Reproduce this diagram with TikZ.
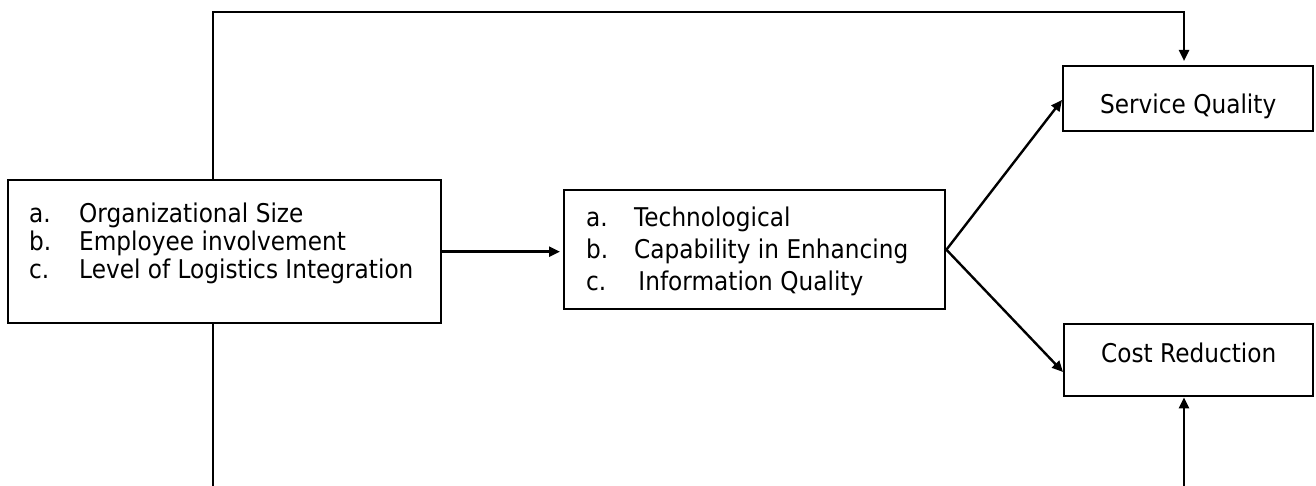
\documentclass[tikz,border=0pt]{standalone}
\usepackage{fontspec}
\setmainfont{DejaVu Sans}[FakeStretch=0.9]
\usetikzlibrary{arrows.meta}

\begin{document}
\begin{tikzpicture}[x=1pt,y=-1pt,
  line width=2.4pt,
  box/.style={draw=black, line width=2.4pt, inner sep=0pt, rectangle},
  listtext/.style={inner sep=0pt, anchor=base west, align=left},
  arr/.style={-{Triangle[length=11pt,width=10pt]}, line width=2.4pt},
  plain/.style={line width=2.4pt}]

\useasboundingbox (0,0) rectangle (1316,486);

% antecedent factors
\node[box, minimum width=433pt, minimum height=143pt, anchor=north west] (drv) at (7,179) {};
\node[listtext] (drvtext) at (28,223)
  {\fontsize{25.8}{27}\selectfont
   \begin{tabular}[t]{@{}p{50pt}@{}l@{}}
   a. & Organizational Size\\
   b. & Employee involvement\\
   c. & Level of Logistics Integration
   \end{tabular}};

% technology capability
\node[box, minimum width=381pt, minimum height=119pt, anchor=north west] (tec) at (563,189) {};
\node[listtext] (tectext) at (585,227)
  {\fontsize{25.8}{32}\selectfont
   \begin{tabular}[t]{@{}p{48pt}@{}l@{}}
   a. & Technological\\
   b. & Capability in Enhancing\\
   c. & \,Information Quality
   \end{tabular}};

% outcomes
\node[box, minimum width=250pt, text height=47pt, text depth=18pt, anchor=north west,
      font=\fontsize{25.8}{30}\selectfont] (sq) at (1062,65) {Service Quality};
\node[box, minimum width=249pt, text height=38pt, text depth=34pt, anchor=north west,
      font=\fontsize{25.8}{30}\selectfont] (cr) at (1063,323) {Cost Reduction};

% routing points
\coordinate (topL) at (213,12);
\coordinate (topR) at (1184,12);
\coordinate (botL) at (213,486);
\coordinate (botR) at (1184,486);
\coordinate (crIn) at (1063,372);

% connectors
\draw[arr, shorten >=4pt] (drv.north -| topL) -- (topL) -- (topR) -- (topR |- sq.north);
\draw[arr, shorten >=3pt] (drv.east) -- (drv.east -| tec.west);
\draw[arr] (tec.east) -- (1062,100);
\draw[arr] (tec.east) -- (crIn);
\draw[plain] (drv.south -| botL) -- (botL);
\draw[arr] (botR) -- (botR |- cr.south);
\end{tikzpicture}
\end{document}
